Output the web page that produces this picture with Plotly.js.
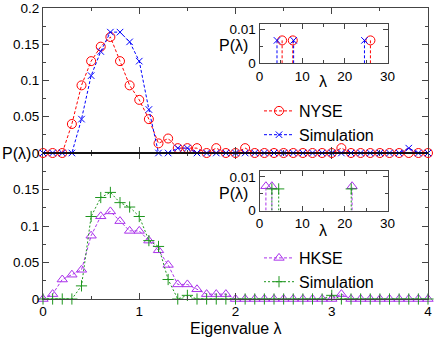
<!DOCTYPE html>
<html>
<head>
<meta charset="utf-8">
<script src="https://cdn.plot.ly/plotly-3.0.1.min.js"></script>
<style>body{margin:0;background:#fff}</style>
</head>
<body>
<div id="chart" style="width:436px;height:337px"></div>
<script>
// eigenvalue bins (bin width 0.1)
var lambda = [0,0.1,0.2,0.3,0.4,0.5,0.6,0.7,0.8,0.9,1.0,1.1,1.2,1.3,1.4,1.5,1.6,1.7,1.8,1.9,2.0,
              2.1,2.2,2.3,2.4,2.5,2.6,2.7,2.8,2.9,3.0,3.1,3.2,3.3,3.4,3.5,3.6,3.7,3.8,3.9,4.0];

// top panel: NYSE and its simulation
var nyse    = [0,0,0,0.04,0.0933,0.1267,0.1467,0.16,0.1267,0.0933,0.0733,0.0467,0.0133,0.02,0.0067,0.0067,0.0067,0,0.0067,0,0,
               0.0067,0,0,0,0,0,0,0,0,0,0.0067,0,0,0,0,0,0,0,0,0];
var nyseSim = [0,0,0,0,0.0467,0.1067,0.14,0.1667,0.1667,0.1533,0.1267,0.06,0,0,0.0067,0.0067,0,0,0,0,0,
               0,0,0,0,0,0,0,0,0,0,0,0,0,0,0,0,0,0.0067,0,0];

// bottom panel: HKSE and its simulation
var hkse    = [0,0.0067,0.0267,0.0333,0.04,0.0867,0.1133,0.12,0.1067,0.0933,0.0933,0.08,0.0667,0.0467,0.02,0.02,0.0133,0.0067,0.0067,0.0067,0,
               0,0,0,0,0,0,0,0,0,0,0.0067,0,0,0,0,0,0,0,0,0];
var hkseSim = [0,0,0,0,0.018,0.113,0.139,0.146,0.132,0.126,0.113,0.08,0.072,0.0267,0,0.005,0,0,0,0,0,
               0,0,0,0,0,0,0,0,0,0.005,0,0,0,0,0,0,0,0,0,0];

// insets: large eigenvalues
var nyseBigX    = [5.3, 7.8, 26.0];
var nyseBigY    = [0.0067, 0.0067, 0.0067];
var nyseSimBigX = [4.1, 8.0, 24.6];
var nyseSimBigY = [0.0067, 0.0067, 0.0067];
var hkseBigX    = [1.5, 2.9, 21.7];
var hkseBigY    = [0.0072, 0.0072, 0.0072];
var hkseSimBigX = [2.9, 4.5, 21.5];
var hkseSimBigY = [0.0064, 0.0064, 0.0064];

var RED = 'rgb(255,0,0)', BLUE = 'rgb(0,0,255)', PURPLE = 'rgb(170,50,235)', GREEN = 'rgb(30,150,30)';
var FONT = 'Liberation Sans, Arial, sans-serif';

function stems(xs, ys) {
  var sx = [], sy = [];
  for (var i = 0; i < xs.length; i++) {
    sx.push(xs[i], xs[i], null);
    sy.push(0, ys[i], null);
  }
  return {x: sx, y: sy};
}

function series(x, y, name, color, symbol, size, dash, xa, ya, legend) {
  return {
    x: x, y: y, name: name, mode: 'lines+markers', xaxis: xa, yaxis: ya,
    legend: legend, cliponaxis: false,
    line: {color: color, width: 1, dash: dash},
    marker: {color: color, symbol: symbol, size: size, line: {color: color, width: 1}}
  };
}

function stemTrace(xs, ys, color, dash, xa, ya) {
  var s = stems(xs, ys);
  return {x: s.x, y: s.y, mode: 'lines', xaxis: xa, yaxis: ya, showlegend: false,
          cliponaxis: false, line: {color: color, width: 1, dash: dash}, hoverinfo: 'skip'};
}

function markTrace(xs, ys, color, symbol, size, xa, ya) {
  return {x: xs, y: ys, mode: 'markers', xaxis: xa, yaxis: ya, showlegend: false, cliponaxis: false,
          marker: {color: color, symbol: symbol, size: size, line: {color: color, width: 1}}};
}

var data = [
  series(lambda, nyse, 'NYSE', RED, 'circle-open', 9, '3px,2px', 'x2', 'y2', 'legend'),
  series(lambda, nyseSim, 'Simulation', BLUE, 'x-thin-open', 6.5, '3px,2px', 'x2', 'y2', 'legend'),
  series(lambda, hkse, 'HKSE', PURPLE, 'triangle-up-open', 9, '3px,2px', 'x', 'y', 'legend2'),
  series(lambda, hkseSim, 'Simulation', GREEN, 'cross-thin-open', 8, '2px,2px', 'x', 'y', 'legend2'),

  stemTrace(nyseBigX, nyseBigY, RED, '3px,2px', 'x3', 'y3'),
  stemTrace(nyseSimBigX, nyseSimBigY, BLUE, '3px,2px', 'x3', 'y3'),
  markTrace(nyseBigX, nyseBigY, RED, 'circle-open', 9, 'x3', 'y3'),
  markTrace(nyseSimBigX, nyseSimBigY, BLUE, 'x-thin-open', 6.5, 'x3', 'y3'),

  stemTrace(hkseBigX, hkseBigY, PURPLE, '3px,2px', 'x4', 'y4'),
  stemTrace(hkseSimBigX, hkseSimBigY, GREEN, '2px,2px', 'x4', 'y4'),
  markTrace(hkseBigX, hkseBigY, PURPLE, 'triangle-up-open', 9, 'x4', 'y4'),
  markTrace(hkseSimBigX, hkseSimBigY, GREEN, 'cross-thin-open', 8, 'x4', 'y4')
];

var AX = {
  showline: true, linecolor: '#444', linewidth: 1, mirror: 'ticks',
  ticks: 'inside', ticklen: 6, tickcolor: '#444', tickwidth: 1,
  showgrid: false, zeroline: false, fixedrange: true,
  tickfont: {family: FONT, size: 13.5, color: '#000'}
};
function ax(extra) { return Object.assign({}, AX, extra); }

var SPLIT = 146 / 291;
var IX = [(259.5 - 43) / 385, (387.5 - 43) / 385];

var layout = {
  width: 436, height: 337,
  margin: {l: 43, r: 8, t: 8, b: 38},
  paper_bgcolor: '#fff', plot_bgcolor: '#fff',
  font: {family: FONT, size: 16, color: '#000'},
  showlegend: true,
  xaxis: ax({anchor: 'y', domain: [0, 1], range: [0, 4], tickvals: [0, 1, 2, 3, 4],
             minor: {tickmode: 'linear', tick0: 0, dtick: 0.5, ticks: 'inside', ticklen: 3, tickcolor: '#444'}}),
  yaxis: ax({anchor: 'x', domain: [0, SPLIT], range: [0, 0.2],
             tickvals: [0, 0.05, 0.1, 0.15], ticktext: ['0', '0.05', '0.1', '0.15'],
             minor: {tickmode: 'linear', tick0: 0, dtick: 0.025, ticks: 'inside', ticklen: 3, tickcolor: '#444'}}),
  xaxis2: ax({anchor: 'y2', matches: 'x', range: [0, 4], tickvals: [0, 1, 2, 3, 4], showticklabels: false,
              minor: {tickmode: 'linear', tick0: 0, dtick: 0.5, ticks: 'inside', ticklen: 3, tickcolor: '#444'}}),
  yaxis2: ax({anchor: 'x2', domain: [SPLIT, 1], range: [0, 0.2],
              tickvals: [0, 0.05, 0.1, 0.15, 0.2], ticktext: ['0', '0.05', '0.1', '0.15', '0.2'],
              minor: {tickmode: 'linear', tick0: 0, dtick: 0.025, ticks: 'inside', ticklen: 3, tickcolor: '#444'}}),
  xaxis3: ax({anchor: 'y3', domain: IX, range: [0, 30], tickvals: [0, 10, 20, 30], ticklen: 5,
              minor: {tickmode: 'linear', tick0: 0, dtick: 5, ticks: 'inside', ticklen: 3, tickcolor: '#444'}}),
  yaxis3: ax({anchor: 'x3', domain: [(299 - 63.3) / 291, (299 - 24) / 291], range: [0, 0.0115],
              tickvals: [0, 0.01], ticktext: ['0', '0.01'], ticklen: 5,
              minor: {tickmode: 'linear', tick0: 0, dtick: 0.005, ticks: 'inside', ticklen: 3, tickcolor: '#444'}}),
  xaxis4: ax({anchor: 'y4', domain: IX, range: [0, 30], tickvals: [0, 10, 20, 30], ticklen: 5,
              minor: {tickmode: 'linear', tick0: 0, dtick: 5, ticks: 'inside', ticklen: 3, tickcolor: '#444'}}),
  yaxis4: ax({anchor: 'x4', domain: [(299 - 210.5) / 291, (299 - 170.7) / 291], range: [0, 0.0118],
              tickvals: [0, 0.01], ticktext: ['0', '0.01'], ticklen: 5,
              minor: {tickmode: 'linear', tick0: 0, dtick: 0.005, ticks: 'inside', ticklen: 3, tickcolor: '#444'}}),
  legend: {x: (259 - 43) / 385, y: (299 - 94) / 291, xanchor: 'left', yanchor: 'top',
           bgcolor: 'rgba(0,0,0,0)', font: {family: FONT, size: 16}, tracegroupgap: 0},
  legend2: {x: (259 - 43) / 385, y: (299 - 241) / 291, xanchor: 'left', yanchor: 'top',
            bgcolor: 'rgba(0,0,0,0)', font: {family: FONT, size: 16}, tracegroupgap: 0},
  shapes: [
    {type: 'line', xref: 'paper', yref: 'paper', x0: 0, x1: 1, y0: SPLIT, y1: SPLIT,
     line: {color: '#000', width: 1.5}}
  ],
  annotations: [
    {text: 'P(λ)', xref: 'paper', yref: 'paper', x: -43 / 385, y: SPLIT, xanchor: 'left', yanchor: 'middle',
     showarrow: false, font: {size: 16}},
    {text: 'Eigenvalue λ', xref: 'paper', yref: 'paper', x: 0.5, y: (299 - 328) / 291, xanchor: 'center',
     yanchor: 'middle', showarrow: false, font: {size: 16}},
    {text: 'P(λ)', xref: 'paper', yref: 'paper', x: (250 - 43) / 385, y: (299 - 45) / 291, xanchor: 'right',
     yanchor: 'middle', showarrow: false, font: {size: 16}},
    {text: 'λ', xref: 'paper', yref: 'paper', x: (322.5 - 43) / 385, y: (299 - 81) / 291, xanchor: 'center',
     yanchor: 'middle', showarrow: false, font: {size: 16}},
    {text: 'P(λ)', xref: 'paper', yref: 'paper', x: (250 - 43) / 385, y: (299 - 193) / 291, xanchor: 'right',
     yanchor: 'middle', showarrow: false, font: {size: 16}},
    {text: 'λ', xref: 'paper', yref: 'paper', x: (322.5 - 43) / 385, y: (299 - 230) / 291, xanchor: 'center',
     yanchor: 'middle', showarrow: false, font: {size: 16}}
  ]
};

Plotly.newPlot('chart', data, layout, {displayModeBar: false, staticPlot: true});
</script>
</body>
</html>
